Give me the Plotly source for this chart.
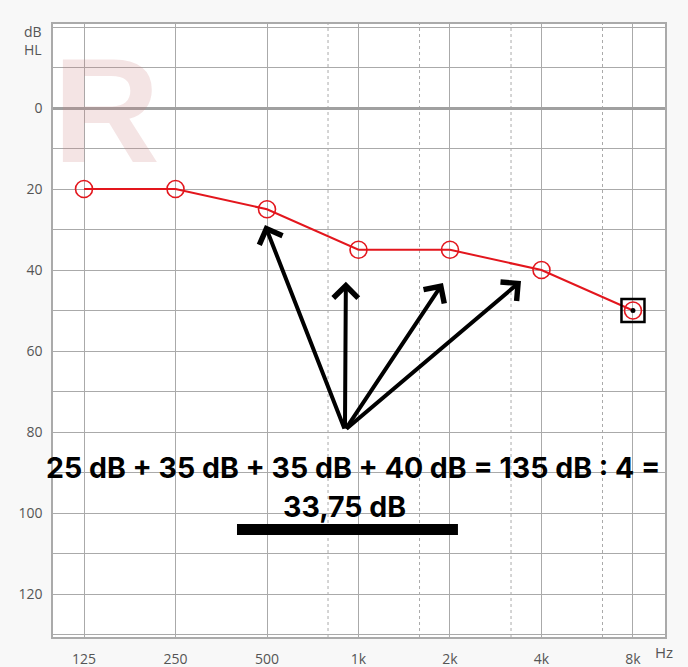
import plotly.graph_objects as go

freq_labels = ["125", "250", "500", "1k", "2k", "4k", "8k"]
thresholds_db = [20, 20, 25, 35, 35, 40, 50]
masked_index = [6]
half_octave_pos = [2.667, 3.667, 4.667, 5.667]
y_ticks = [0, 20, 40, 60, 80, 100, 120]

arrow_origin = (2.852, 79.5)
arrow_tips_x = [1.978, 2.862, 3.923, 4.776]
arrow_tips_y = [28.9, 42.9, 43.2, 42.7]

eq_line1 = "25 dB + 35 dB + 35 dB + 40 dB = 135 dB : 4 ="
eq_line2 = "33,75 dB"

x_idx = list(range(len(freq_labels)))

fig = go.Figure()

fig.add_trace(go.Scatter(
    x=x_idx, y=thresholds_db, mode="lines+markers",
    line=dict(color="#e3161d", width=2),
    marker=dict(symbol="circle-open", size=17, color="#e3161d", line=dict(width=1.6)),
    showlegend=False, hoverinfo="skip"))

fig.add_trace(go.Scatter(
    x=[x_idx[i] for i in masked_index], y=[thresholds_db[i] for i in masked_index],
    mode="markers",
    marker=dict(symbol="square-open", size=23, color="black", line=dict(width=2.5)),
    showlegend=False, hoverinfo="skip"))
fig.add_trace(go.Scatter(
    x=[x_idx[i] for i in masked_index], y=[thresholds_db[i] for i in masked_index],
    mode="markers",
    marker=dict(symbol="circle", size=5, color="black"),
    showlegend=False, hoverinfo="skip"))

# dashed intermediate frequency lines
for xp in half_octave_pos:
    fig.add_shape(type="line", xref="x", yref="paper", x0=xp, x1=xp, y0=0, y1=1,
                  line=dict(color="#aaaaaa", width=1, dash="dot"), layer="below")

# watermark R
fig.add_annotation(x=0.25, y=0.5, xref="x", yref="y", text="<b>R</b>", showarrow=False,
                   font=dict(family="Liberation Sans", size=148, color="rgba(200,120,120,0.2)"))

# arrows
for tx, ty in zip(arrow_tips_x, arrow_tips_y):
    fig.add_annotation(x=tx, y=ty, ax=arrow_origin[0], ay=arrow_origin[1],
                       xref="x", yref="y", axref="x", ayref="y", text="",
                       showarrow=True, arrowhead=4, arrowsize=1.2, arrowwidth=4,
                       arrowcolor="black")

fig.add_annotation(x=2.94, y=88.8, xref="x", yref="y", text="<b>" + eq_line1 + "</b>",
                   showarrow=False, font=dict(family="Inter", size=28.5, color="black"))
fig.add_annotation(x=2.85, y=98.5, xref="x", yref="y", text="<b>" + eq_line2 + "</b>",
                   showarrow=False, font=dict(family="Inter", size=28.5, color="black"))
fig.add_shape(type="rect", xref="x", yref="y", x0=1.672, x1=4.087, y0=102.7, y1=105.4,
              fillcolor="black", line=dict(width=0), layer="above")

fig.add_annotation(x=-0.033, y=1.0, xref="paper", yref="paper", text="dB<br>HL",
                   showarrow=False, xanchor="center", yanchor="bottom", yshift=-37,
                   font=dict(family="Open Sans", size=14, color="#555555"), align="center")
fig.add_annotation(x=1.0, y=0, xref="paper", yref="paper", text="Hz", showarrow=False,
                   xanchor="left", yanchor="top", xshift=-12, yshift=-3,
                   font=dict(family="Open Sans", size=15, color="#555555"))

fig.update_xaxes(range=[-0.339, 6.350], tickvals=x_idx, ticktext=freq_labels,
                 showgrid=True, gridcolor="#aaaaaa", gridwidth=1,
                 showline=True, linecolor="#aaaaaa", linewidth=1.5, mirror=True,
                 zeroline=False, ticks="", ticklabelstandoff=8,
                 tickfont=dict(family="Open Sans", size=14, color="#555555"))
fig.update_yaxes(range=[130.6, -20.74], tickvals=y_ticks, dtick=10,
                 showgrid=True, gridcolor="#aaaaaa", gridwidth=1,
                 minor=dict(dtick=10, showgrid=True, gridcolor="#aaaaaa", gridwidth=1),
                 showline=True, linecolor="#aaaaaa", linewidth=1.5, mirror=True,
                 zeroline=True, zerolinecolor="#a0a0a0", zerolinewidth=3,
                 ticks="", ticklabelstandoff=6,
                 tickfont=dict(family="Open Sans", size=14, color="#555555"))

fig.update_layout(width=688, height=667, margin=dict(l=53, r=23, t=24, b=30, autoexpand=False),
                  paper_bgcolor="#f8f8f8", plot_bgcolor="white")

fig.write_html("out.html", config={"displayModeBar": False},
               post_script="document.body.style.margin='0';document.body.style.overflow='hidden';document.body.style.background='#f8f8f8';")
